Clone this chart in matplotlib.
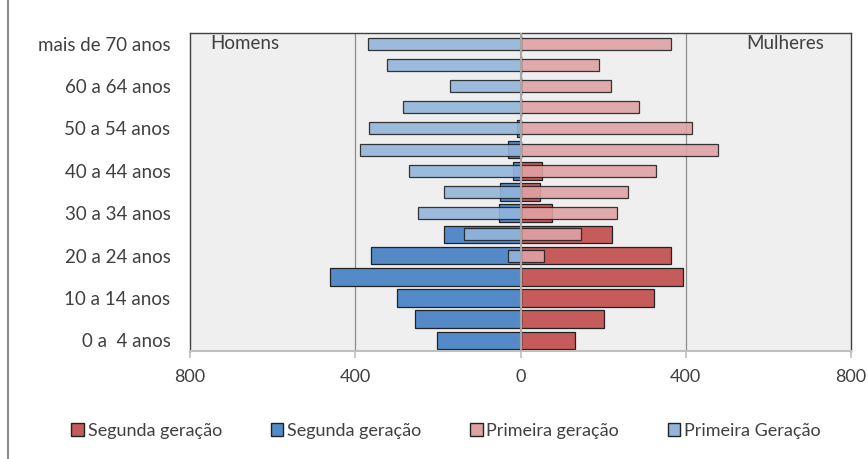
import matplotlib
matplotlib.use("Agg")
import matplotlib.pyplot as plt
from matplotlib.patches import Patch
from matplotlib.lines import Line2D
import numpy as np

# age groups, bottom to top
grupos = ["0 a  4 anos", "5 a 9 anos", "10 a 14 anos", "15 a 19 anos", "20 a 24 anos",
          "25 a 29 anos", "30 a 34 anos", "35 a 39 anos", "40 a 44 anos", "45 a 49 anos",
          "50 a 54 anos", "55 a 59 anos", "60 a 64 anos", "65 a 69 anos", "mais de 70 anos"]

homens_segunda = [202, 256, 299, 460, 361, 184, 52, 50, 18, 30, 8, 0, 0, 0, 0]
homens_primeira = [0, 0, 0, 0, 30, 137, 249, 184, 269, 388, 366, 284, 170, 322, 369]
mulheres_segunda = [132, 202, 324, 394, 364, 221, 77, 47, 53, 0, 0, 0, 0, 0, 0]
mulheres_primeira = [0, 0, 0, 0, 57, 146, 234, 261, 328, 478, 414, 286, 219, 191, 364]

x_ticks = [-800, -400, 0, 400, 800]
x_labels = ["800", "400", "0", "400", "800"]

c_red_dark = "#C55B5B"
c_blue_dark = "#558AC9"
c_red_light = "#DFA2A4"
c_blue_light = "#93B5DB"
txt = "#404040"

plt.rcParams["font.family"] = ["Lato", "DejaVu Sans"]

fig = plt.figure(figsize=(8.68, 4.59), dpi=100)
ax = fig.add_axes([190 / 868, 1 - 351 / 459, 661 / 868, 318 / 459])
ax.set_facecolor("#EEEFEE")

y = np.arange(len(grupos))
hm2 = -np.array(homens_segunda)
hm1 = -np.array(homens_primeira)

ax.barh(y, hm2, height=0.83, color=c_blue_dark, edgecolor="#222222", linewidth=0.9, zorder=2)
ax.barh(y, mulheres_segunda, height=0.83, color=c_red_dark, edgecolor="#222222", linewidth=0.9, zorder=2)
ax.barh(y, hm1, height=0.56, color=c_blue_light, edgecolor="#222222", linewidth=0.9,
        alpha=0.9, zorder=3)
ax.barh(y, mulheres_primeira, height=0.56, color=c_red_light, edgecolor="#222222", linewidth=0.9,
        alpha=0.9, zorder=3)

# gridlines and central axis
for xv in (-400, 400):
    ax.axvline(xv, color="#8C8C8C", linewidth=0.9, zorder=1)
ax.axvline(0, color="#A6A6A6", linewidth=1.5, zorder=4)

ax.set_xlim(-800, 800)
ax.set_ylim(-0.5, len(grupos) - 0.5)
ax.set_xticks(x_ticks)
ax.set_xticklabels(x_labels, fontsize=13, color=txt)
ax.set_yticks(y[::2])
ax.set_yticklabels(grupos[::2], fontsize=13.5, color=txt)
ax.tick_params(axis="y", length=0, pad=14)
ax.tick_params(axis="x", length=5, color="#BFBFBF", width=1.2, pad=8)

for s in ("left", "right", "top"):
    ax.spines[s].set_color("#404040")
    ax.spines[s].set_linewidth(1.0)
ax.spines["bottom"].set_color("#BFBFBF")
ax.spines["bottom"].set_linewidth(1.5)

ax.text(-750, 14, "Homens", fontsize=13.5, color=txt, va="center", ha="left")
ax.text(735, 14, "Mulheres", fontsize=13.5, color=txt, va="center", ha="right")

handles = [Patch(facecolor=c_red_dark, edgecolor="#222222", label="Segunda geração"),
           Patch(facecolor=c_blue_dark, edgecolor="#222222", label="Segunda geração"),
           Patch(facecolor=c_red_light, edgecolor="#222222", label="Primeira geração"),
           Patch(facecolor=c_blue_light, edgecolor="#222222", label="Primeira Geração")]
leg = fig.legend(handles=handles, loc="center", bbox_to_anchor=(446 / 868, 1 - 431 / 459),
                 ncol=4, frameon=False, fontsize=13, handlelength=0.7, handleheight=0.7,
                 handletextpad=0.2, columnspacing=2.7)
for t in leg.get_texts():
    t.set_color(txt)

# outer chart border (left edge visible)
fig.add_artist(Line2D([8 / 868, 8 / 868], [0, 1], color="#8C8C8C", linewidth=1.5))

fig.savefig("out.png", dpi=100)
